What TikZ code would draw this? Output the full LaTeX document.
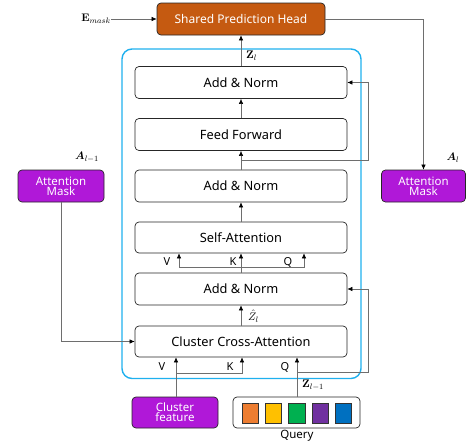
\documentclass[tikz,border=0pt]{standalone}
\usepackage{amsmath,amssymb,bm}
\usepackage[no-math]{fontspec}
\setmainfont{Noto Sans}
\usetikzlibrary{arrows.meta,positioning,calc}
\definecolor{headcol}{HTML}{C55A11}
\definecolor{maskcol}{HTML}{B018D8}
\definecolor{framecol}{HTML}{1FB0EE}
\definecolor{linecol}{HTML}{6E6E6E}
\definecolor{qorange}{HTML}{ED7D31}
\definecolor{qyellow}{HTML}{FFC000}
\definecolor{qgreen}{HTML}{00B050}
\definecolor{qpurple}{HTML}{7030A0}
\definecolor{qblue}{HTML}{0070C0}
\begin{document}
\begin{tikzpicture}[x=1pt,y=-1pt,
  layer/.style={draw=black!85,line width=0.7pt,rounded corners=4pt,fill=white,
    minimum width=212pt,minimum height=32pt,inner sep=0pt,font=\fontsize{12.8}{14}\selectfont},
  colbox/.style={draw=black!85,line width=0.7pt,rounded corners=4pt,
    minimum height=32pt,inner sep=0pt,text=white,align=center,
    font=\fontsize{11.5}{13}\selectfont},
  conn/.style={draw=linecol,line width=0.6pt,-{Latex[length=5pt,width=4.5pt,black]}},
  lbl/.style={inner sep=0pt,font=\fontsize{11}{12}\selectfont},
  sq/.style={draw=black!80,line width=0.5pt,minimum width=16.5pt,minimum height=20pt,inner sep=0pt}]
\useasboundingbox (0,0) rectangle (466,442);

% encoder block frame
\draw[framecol,line width=1.4pt,rounded corners=10pt] (122,49) rectangle (361,378.5);

% prediction head
\node[colbox,fill=headcol,minimum width=168pt,font=\fontsize{12}{14}\selectfont] (sph) at (241,19) {Shared Prediction Head};

% layer stack
\node[layer] (an3) at (241,82.5) {Add \& Norm};
\node[layer] (ff)  at (241,134.5) {Feed Forward};
\node[layer] (an2) at (241,186) {Add \& Norm};
\node[layer,minimum height=31pt] (sa)  at (241,237.5) {Self-Attention};
\node[layer] (an1) at (241,289) {Add \& Norm};
\node[layer,minimum height=31pt] (cca) at (241,341.5) {Cluster Cross-Attention};

% attention masks
\node[colbox,fill=maskcol,minimum width=86pt] (amL) at (61,186) {Attention\\[-3pt]Mask};
\node[colbox,fill=maskcol,minimum width=84pt] (amR) at (423.5,186) {Attention\\[-3pt]Mask};

% inputs
\node[colbox,fill=maskcol,minimum width=86pt,minimum height=31pt] (cf) at (175,412.5) {Cluster\\[-3pt]feature};
\node[draw=black!85,line width=0.7pt,rounded corners=4pt,minimum width=127pt,minimum height=31pt,inner sep=0pt] (query) at (296.5,412.5) {};
\node[sq,fill=qorange] (q1) at (250,413) {};
\node[sq,fill=qyellow] (q2) at (273.3,413) {};
\node[sq,fill=qgreen]  (q3) at (296.6,413) {};
\node[sq,fill=qpurple] (q4) at (320,413) {};
\node[sq,fill=qblue]   (q5) at (343.3,413) {};
\node[inner sep=0pt,font=\fontsize{11.5}{13}\selectfont] (qlabel) at (297,435.5) {Query};

% math labels
\node[lbl,anchor=east] (emask) at (111,19) {$\mathbf{E}_{mask}$};
\node[lbl,anchor=west] (zl) at (246,56) {$\mathbf{Z}_{l}$};
\node[lbl,anchor=west] (zhat) at (248,316) {$\hat{Z}_{l}$};
\node[lbl,anchor=west] (zlm1) at (302,385) {$\mathbf{Z}_{l-1}$};
\node[lbl] (alm1) at (87,157) {$\bm{A}_{l-1}$};
\node[lbl] (al) at (453,158) {$\bm{A}_{l}$};

% branch points
\coordinate (r2) at (241,160);
\coordinate (sab) at (241,267);
\coordinate (vb) at (176,373);
\coordinate (qb) at (297,372);

% top of the stack
\draw[conn] (emask.east) -- (sph.west);
\draw[conn] (an3.north) -- (sph.south);
\draw[conn] (sph.east) -| (amR.north);
\draw[conn] (ff.north) -- (an3.south);
\draw[conn] (an2.north) -- (ff.south);
\draw[conn] (r2) -- ++(127,0) |- (an3.east);
\draw[conn] (sa.north) -- (an2.south);

% self-attention inputs
\draw[conn] (an1.north) -- (sa.south);
\draw[conn] (sab) -| (sa.south -| 179,0);
\draw[conn] (sab) -| (sa.south -| 304,0);
\node[inner sep=0pt,font=\fontsize{11}{12}\selectfont] (sv) at (167,262) {V};
\node[inner sep=0pt,font=\fontsize{11}{12}\selectfont] (sk) at (233,262) {K};
\node[inner sep=0pt,font=\fontsize{11}{12}\selectfont] (sq) at (288,262) {Q};

% cross-attention
\draw[conn] (cca.north) -- (an1.south);
\draw[conn] (amL.south) |- (cca.west);
\draw[conn] (cf.north -| vb) -- (cca.south -| vb);
\draw[conn] (vb) -| (cca.south -| 242,0);
\draw[conn] (query.north -| qb) -- (cca.south -| qb);
\draw[conn] (qb) -- ++(71,0) |- (an1.east);
\node[inner sep=0pt,font=\fontsize{11}{12}\selectfont] (cv) at (162,367) {V};
\node[inner sep=0pt,font=\fontsize{11}{12}\selectfont] (ck) at (230,367) {K};
\node[inner sep=0pt,font=\fontsize{11}{12}\selectfont] (cq) at (285,367) {Q};
\end{tikzpicture}
\end{document}
